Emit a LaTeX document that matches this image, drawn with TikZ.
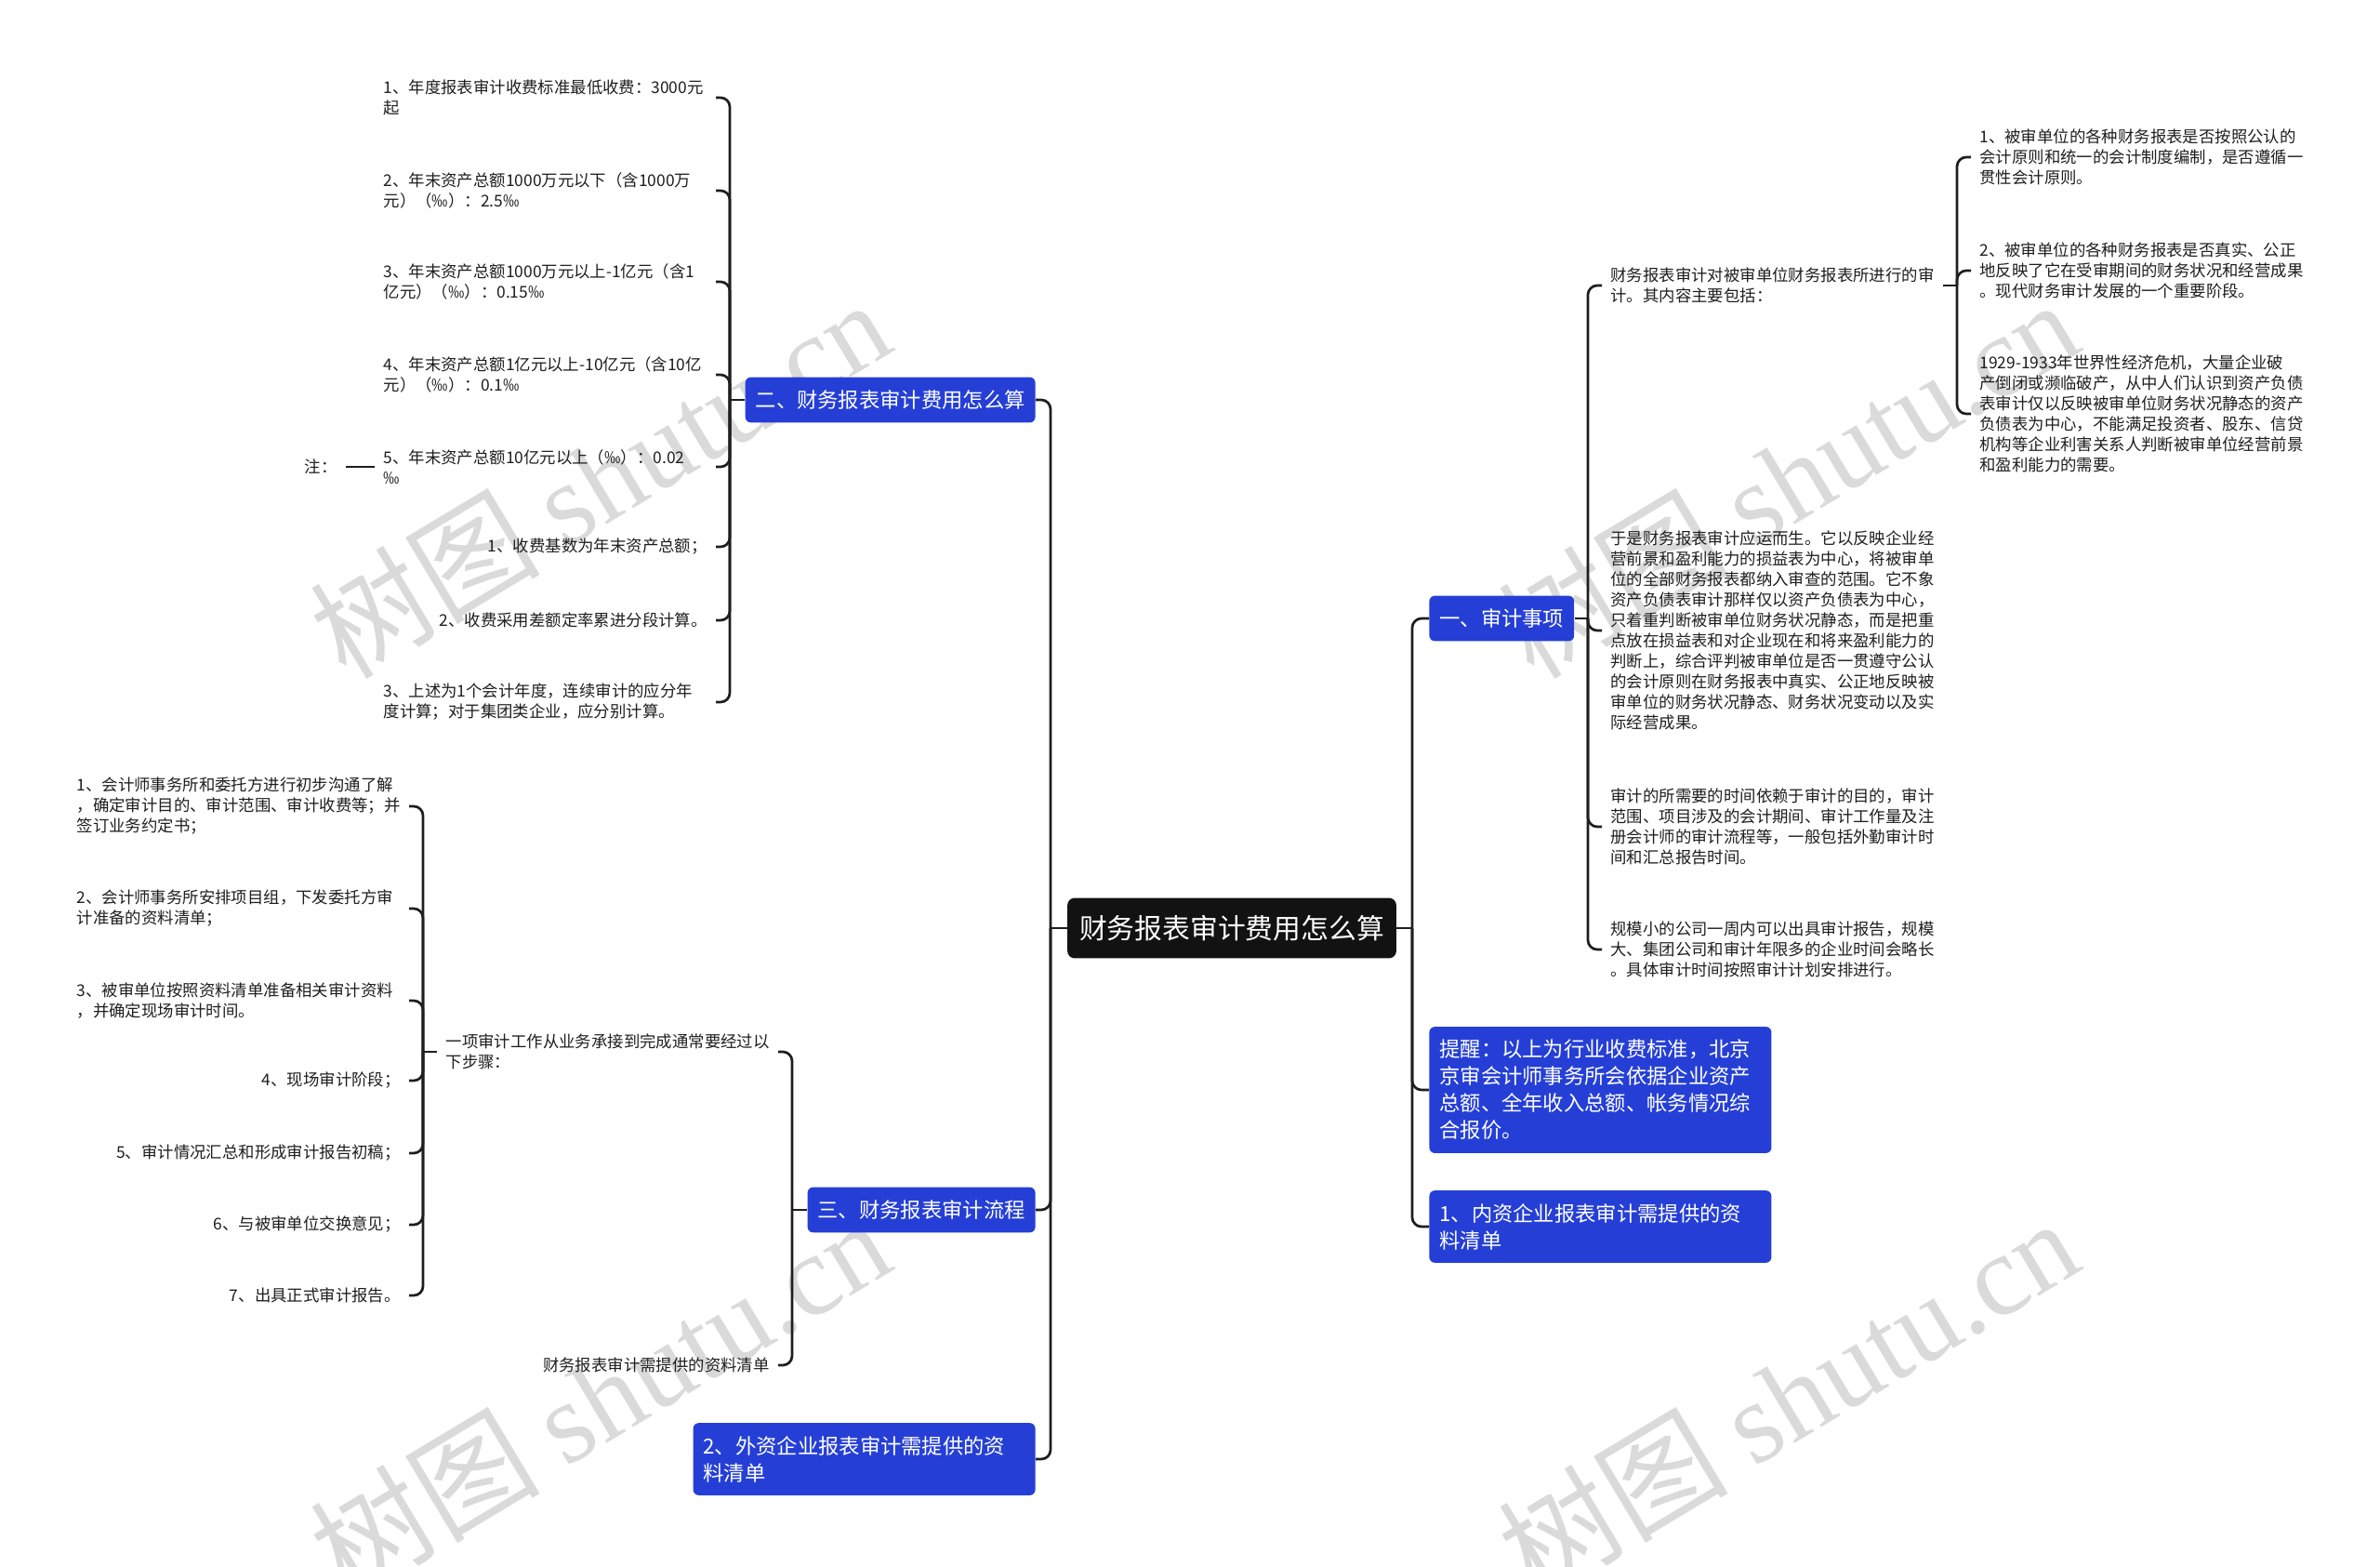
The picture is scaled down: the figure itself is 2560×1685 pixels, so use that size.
\documentclass[tikz,border=0pt]{standalone}
\usepackage{fontspec}
\setmainfont{Noto Sans CJK SC}
\newfontfamily\wmlatin{Liberation Serif}
\newfontfamily\wmcjk{Noto Sans CJK SC}
\usetikzlibrary{calc}
\definecolor{nodeblue}{RGB}{37,63,214}
\definecolor{wmgray}{RGB}{218,218,218}
\definecolor{inkc}{RGB}{30,30,30}
\begin{document}
\begin{tikzpicture}[x=0.5pt,y=-0.5pt,
  conn/.style={line width=1.35pt, draw=inkc, rounded corners=5pt},
  leaf/.style={font=\fontsize{8.7pt}{11pt}\selectfont, text width=174pt, inner xsep=4.5pt, inner ysep=1pt, align=left, text=inkc},
  leafr/.style={leaf, align=right},
  bluebox/.style={fill=nodeblue, text=white, rounded corners=3pt, font=\fontsize{11.15pt}{14.5pt}\selectfont, inner xsep=5.5pt, inner ysep=7pt},
  bluewide/.style={bluebox, text width=173pt, align=left},
  rootbox/.style={fill=black!93, text=white, rounded corners=4pt, font=\fontsize{14.9pt}{18pt}\selectfont, inner xsep=6.5pt, inner ysep=9.3pt},
  wm/.style={rotate=31, text=wmgray, font=\fontsize{62pt}{62pt}\selectfont}
]
\useasboundingbox (0,0) rectangle (2560,1685);

% watermarks
\node[wm] (wm1) at (645,514) {\wmcjk 树图 \wmlatin shutu.cn};
\node[wm] (wm2) at (1923,514) {\wmcjk 树图 \wmlatin shutu.cn};
\node[wm] (wm3) at (645,1502) {\wmcjk 树图 \wmlatin shutu.cn};
\node[wm] (wm4) at (1923,1502) {\wmcjk 树图 \wmlatin shutu.cn};

% root
\node[rootbox] (root) at (1325,998) {财务报表审计费用怎么算};

% left branches
\node[bluebox, anchor=east] (b2) at (1114,430) {二、财务报表审计费用怎么算};
\node[bluebox, anchor=east] (b3) at (1114,1301) {三、财务报表审计流程};
\node[bluewide, anchor=east] (bw) at (1114,1569) {2、外资企业报表审计需提供的资\\料清单};

% right branches
\node[bluebox, anchor=west] (b1) at (1537,665) {一、审计事项};
\node[bluewide, anchor=west] (bt) at (1537,1172) {提醒：以上为行业收费标准，北京\\京审会计师事务所会依据企业资产\\总额、全年收入总额、帐务情况综\\合报价。};
\node[bluewide, anchor=west] (bn) at (1537,1319) {1、内资企业报表审计需提供的资\\料清单};

% junction coordinates
\coordinate (jL) at (1130,998);
\coordinate (jR) at (1519,998);
\coordinate (j2) at (785,430);
\coordinate (j3) at (852,1301);
\coordinate (jT) at (455,1131);
\coordinate (jY) at (1708,665);
\coordinate (jC) at (2105,307);

% group under 二
\node[leaf, anchor=east] (i1) at (770,105) {1、年度报表审计收费标准最低收费：3000元\\起};
\node[leaf, anchor=east] (i2) at (770,205) {2、年末资产总额1000万元以下（含1000万\\元）（‰）：2.5‰};
\node[leaf, anchor=east] (i3) at (770,303) {3、年末资产总额1000万元以上-1亿元（含1\\亿元）（‰）：0.15‰};
\node[leaf, anchor=east] (i4) at (770,403) {4、年末资产总额1亿元以上-10亿元（含10亿\\元）（‰）：0.1‰};
\node[leaf, anchor=east] (i5) at (770,502) {5、年末资产总额10亿元以上（‰）：0.02\\‰};
\node[leafr, anchor=east] (i6) at (770,588) {1、收费基数为年末资产总额；};
\node[leafr, anchor=east] (i7) at (770,667) {2、收费采用差额定率累进分段计算。};
\node[leaf, anchor=east] (i8) at (770,755) {3、上述为1个会计年度，连续审计的应分年\\度计算；对于集团类企业，应分别计算。};
\node[font=\fontsize{8.7pt}{11pt}\selectfont, text=inkc, inner xsep=4.5pt, anchor=east] (zhu) at (372,502) {注：};

% group under 三
\node[leaf, anchor=east] (t1) at (837,1131) {一项审计工作从业务承接到完成通常要经过以\\下步骤：};
\node[leafr, anchor=east] (t2) at (837,1468) {财务报表审计需提供的资料清单};

% steps
\node[leaf, anchor=east] (s1) at (440,867) {1、会计师事务所和委托方进行初步沟通了解\\，确定审计目的、审计范围、审计收费等；并\\签订业务约定书；};
\node[leaf, anchor=east] (s2) at (440,977) {2、会计师事务所安排项目组，下发委托方审\\计准备的资料清单；};
\node[leaf, anchor=east] (s3) at (440,1076) {3、被审单位按照资料清单准备相关审计资料\\，并确定现场审计时间。};
\node[leafr, anchor=east] (s4) at (440,1162) {4、现场审计阶段；};
\node[leafr, anchor=east] (s5) at (440,1240) {5、审计情况汇总和形成审计报告初稿；};
\node[leafr, anchor=east] (s6) at (440,1317) {6、与被审单位交换意见；};
\node[leafr, anchor=east] (s7) at (440,1393) {7、出具正式审计报告。};

% group under 一
\node[leaf, anchor=west] (c1) at (1723,307) {财务报表审计对被审单位财务报表所进行的审\\计。其内容主要包括：};
\node[leaf, anchor=west] (c2) at (1723,678) {于是财务报表审计应运而生。它以反映企业经\\营前景和盈利能力的损益表为中心，将被审单\\位的全部财务报表都纳入审查的范围。它不象\\资产负债表审计那样仅以资产负债表为中心，\\只着重判断被审单位财务状况静态，而是把重\\点放在损益表和对企业现在和将来盈利能力的\\判断上，综合评判被审单位是否一贯遵守公认\\的会计原则在财务报表中真实、公正地反映被\\审单位的财务状况静态、财务状况变动以及实\\际经营成果。};
\node[leaf, anchor=west] (c3) at (1723,889) {审计的所需要的时间依赖于审计的目的，审计\\范围、项目涉及的会计期间、审计工作量及注\\册会计师的审计流程等，一般包括外勤审计时\\间和汇总报告时间。};
\node[leaf, anchor=west] (c4) at (1723,1021) {规模小的公司一周内可以出具审计报告，规模\\大、集团公司和审计年限多的企业时间会略长\\。具体审计时间按照审计计划安排进行。};

% group under c1
\node[leaf, anchor=west] (g1) at (2120,169) {1、被审单位的各种财务报表是否按照公认的\\会计原则和统一的会计制度编制，是否遵循一\\贯性会计原则。};
\node[leaf, anchor=west] (g2) at (2120,291) {2、被审单位的各种财务报表是否真实、公正\\地反映了它在受审期间的财务状况和经营成果\\。现代财务审计发展的一个重要阶段。};
\node[leaf, anchor=west] (g3) at (2120,445) {1929-1933年世界性经济危机，大量企业破\\产倒闭或濒临破产，从中人们认识到资产负债\\表审计仅以反映被审单位财务状况静态的资产\\负债表为中心，不能满足投资者、股东、信贷\\机构等企业利害关系人判断被审单位经营前景\\和盈利能力的需要。};

% connectors: root
\draw[conn] (root.west) -- (jL);
\foreach \c in {b2,b3,bw} \draw[conn] (jL) |- (\c.east);
\draw[conn] (root.east) -- (jR);
\foreach \c in {b1,bt,bn} \draw[conn] (jR) |- (\c.west);

% 二
\draw[conn] (b2.west) -- (j2);
\foreach \c in {i1,i2,i3,i4,i5,i6,i7,i8} \draw[conn] (j2) |- (\c.east);
\draw[conn] (zhu.east) -- (i5.west);

% 三
\draw[conn] (b3.west) -- (j3);
\foreach \c in {t1,t2} \draw[conn] (j3) |- (\c.east);
\draw[conn] (t1.west) -- (jT);
\foreach \c in {s1,s2,s3,s4,s5,s6,s7} \draw[conn] (jT) |- (\c.east);

% 一
\draw[conn] (b1.east) -- (jY);
\foreach \c in {c1,c2,c3,c4} \draw[conn] (jY) |- (\c.west);
\draw[conn] (c1.east) -- (jC);
\foreach \c in {g1,g2,g3} \draw[conn] (jC) |- (\c.west);
\end{tikzpicture}
\end{document}
